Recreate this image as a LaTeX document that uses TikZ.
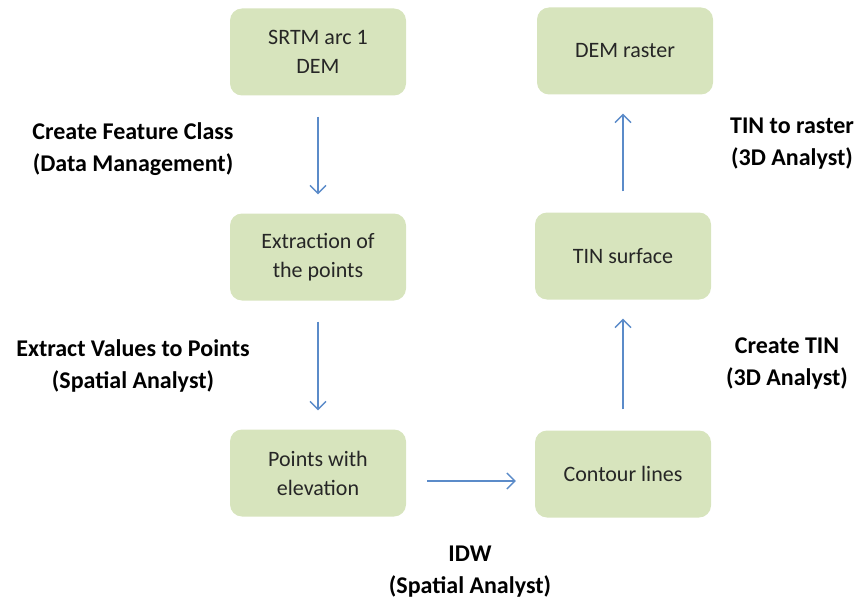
\documentclass[tikz,border=0pt]{standalone}
\usepackage{fontspec}
\setmainfont{Carlito}
\usetikzlibrary{arrows.meta}
\definecolor{boxgreen}{HTML}{D7E4BD}
\definecolor{arrowblue}{HTML}{5B8BC9}

\begin{document}
\begin{tikzpicture}[
            x=1pt, y=-1pt,
            stepbox/.style={fill=boxgreen, rounded corners=12pt,
            minimum width=176pt, minimum height=87pt,
            text=black!85, align=center, font=\fontsize{22}{29}\selectfont},
            tool/.style={font=\fontsize{24}{32}\selectfont\bfseries, align=center},
            ar/.style={-{Straight Barb[length=8pt,width=16pt]}, draw=arrowblue,
            line width=1.4pt, shorten <=21pt, shorten >=19pt}
        ]
            \useasboundingbox (0,0) rectangle (859,607);
% left column
            \node[stepbox] (srtm) at (318,52)  {SRTM arc 1\\DEM};
            \node[stepbox] (ext)  at (318,257) {Extraction of\\the points};
            \node[stepbox] (pts)  at (318,473) {Points with\\elevation};
% right column
            \node[stepbox] (dem)  at (625,51)  {DEM raster};
            \node[stepbox] (tin)  at (623,256) {TIN surface};
            \node[stepbox] (cnt)  at (623,474) {Contour lines};
% tool labels
            \node[tool] (fc)  at (133,149) {Create Feature Class\\(Data Management)};
            \node[tool] (ev)  at (133,366) {Extract Values to Points\\(Spatial Analyst)};
            \node[tool] (idw) at (470,572) {IDW\\(Spatial Analyst)};
            \node[tool] (ct)  at (787,364) {Create TIN\\(3D Analyst)};
            \node[tool] (tr)  at (792,144) {TIN to raster\\(3D Analyst)};

            \draw[ar] (srtm.south) -- (srtm.south |- ext.north);
            \draw[ar] (ext.south)  -- (ext.south |- pts.north);
            \draw[ar] ([yshift=-8pt]pts.east) -- ([yshift=-8pt]pts.east -| cnt.west);
            \draw[ar] (cnt.north)  -- (cnt.north |- tin.south);
            \draw[ar] (tin.north)  -- (tin.north |- dem.south);
        \end{tikzpicture}
\end{document}
